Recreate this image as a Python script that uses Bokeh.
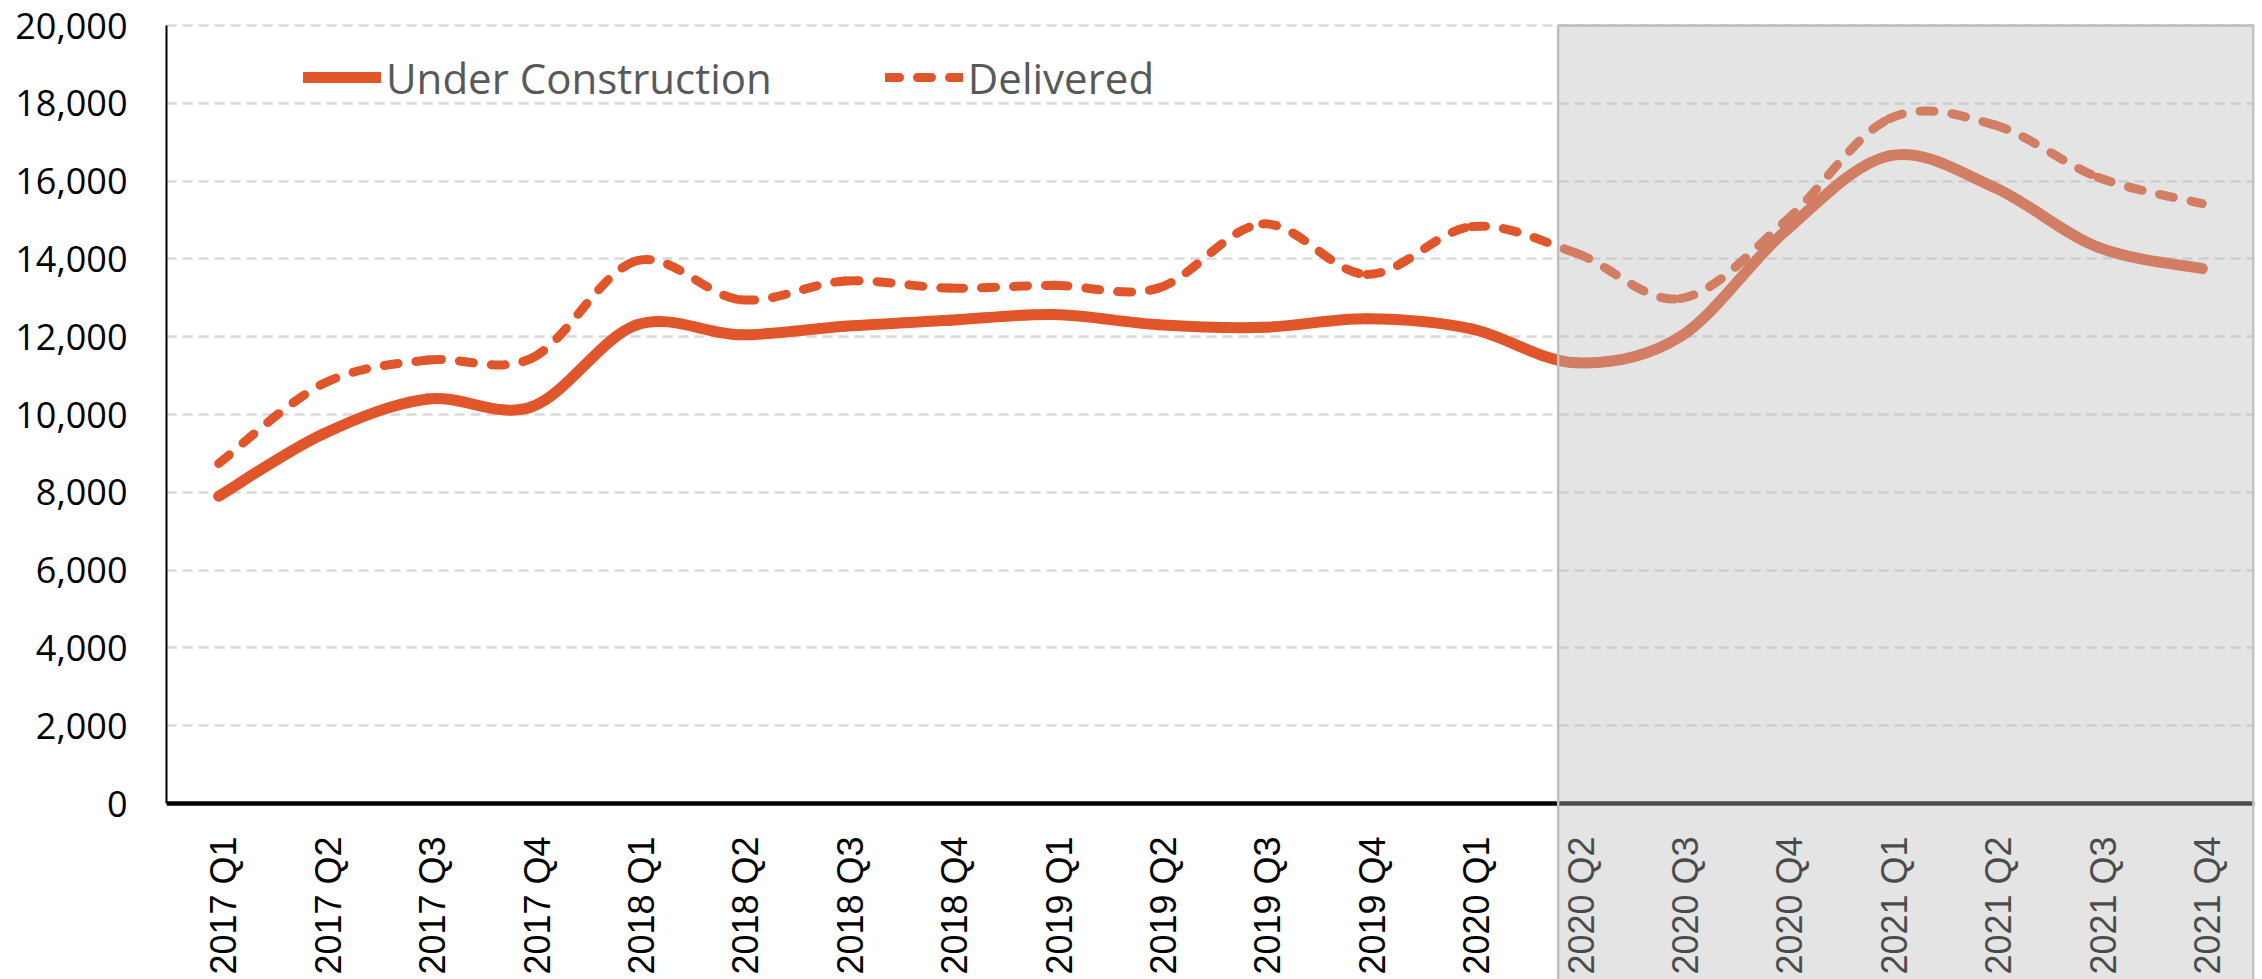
from bokeh.plotting import figure
from bokeh.models import Range1d, FixedTicker, NumeralTickFormatter, Legend, LegendItem, Span, ColumnDataSource
from bokeh.core.properties import value
from bokeh.embed import file_html
from bokeh.resources import INLINE
import math

# ---------------- data ----------------
quarters = ["2017 Q1", "2017 Q2", "2017 Q3", "2017 Q4",
            "2018 Q1", "2018 Q2", "2018 Q3", "2018 Q4",
            "2019 Q1", "2019 Q2", "2019 Q3", "2019 Q4",
            "2020 Q1", "2020 Q2", "2020 Q3", "2020 Q4",
            "2021 Q1", "2021 Q2", "2021 Q3", "2021 Q4"]
under_construction = [7900, 9500, 10400, 10200, 12300, 12050, 12270, 12420,
                      12570, 12310, 12240, 12460, 12200, 11330, 12000, 14700,
                      16650, 15850, 14300, 13750]
delivered = [8740, 10790, 11400, 11450, 13950, 12950, 13430, 13250,
             13320, 13250, 14900, 13600, 14830, 14150, 12980, 14950,
             17600, 17450, 16100, 15420]
y_ticks = [0, 2000, 4000, 6000, 8000, 10000, 12000, 14000, 16000, 18000, 20000]
forecast_start = 12.83   # shaded forecast region starts just before 2020 Q2

# ---------------- layout constants (pixels) ----------------
W, H = 2262, 979
left_border = 166
right_border = 8
y0_px = 803          # canvas y of value 0
y20k_px = 25         # canvas y of value 20000
px_per_unit = (y0_px - y20k_px) / 20000.0
y_end = 20000 + y20k_px / px_per_unit
y_start = -(H - y0_px) / px_per_unit
label_top_px = 836
label_y = -(label_top_px - y0_px) / px_per_unit
label_dx = 0.05

ORANGE = "#E1552A"

p = figure(width=W, height=H, output_backend="svg", toolbar_location=None,
           x_range=Range1d(-0.5, 19.5), y_range=Range1d(y_start, y_end),
           x_axis_location=None, min_border_left=left_border, min_border_right=right_border,
           min_border_top=0, min_border_bottom=0)
p.outline_line_color = None
p.background_fill_color = "white"
p.border_fill_color = "white"
p.xgrid.visible = False

# y axis
ax = p.yaxis[0]
ax.ticker = FixedTicker(ticks=y_ticks)
ax.formatter = NumeralTickFormatter(format="0,0")
ax.bounds = (0, 20000)
ax.axis_line_color = "black"
ax.axis_line_width = 2
ax.major_tick_line_color = None
ax.minor_tick_line_color = None
ax.major_tick_out = 0
ax.major_tick_in = 0
ax.major_label_standoff = 39
ax.major_label_text_font = "Open Sans"
ax.major_label_text_font_size = "36px"
ax.major_label_text_color = "black"

p.ygrid.ticker = FixedTicker(ticks=y_ticks)
p.ygrid.grid_line_color = "#D9D9D9"
p.ygrid.grid_line_width = 2.5
p.ygrid.grid_line_dash = "10 6"

# x axis baseline
base = Span(location=0, dimension="width", line_color="black", line_width=4.5, level="underlay")
p.add_layout(base)


def bezier_source(vals):
    n = len(vals)
    xs = list(range(n))

    def P(k):
        k = min(max(k, 0), n - 1)
        return xs[k], vals[k]

    d = dict(x0=[], y0=[], x1=[], y1=[], cx0=[], cy0=[], cx1=[], cy1=[])
    for i in range(n - 1):
        p0, p1, p2, p3 = P(i - 1), P(i), P(i + 1), P(i + 2)
        d["x0"].append(p1[0]); d["y0"].append(p1[1])
        d["x1"].append(p2[0]); d["y1"].append(p2[1])
        d["cx0"].append(p1[0] + (p2[0] - p0[0]) / 6.0)
        d["cy0"].append(p1[1] + (p2[1] - p0[1]) / 6.0)
        d["cx1"].append(p2[0] - (p3[0] - p1[0]) / 6.0)
        d["cy1"].append(p2[1] - (p3[1] - p1[1]) / 6.0)
    return ColumnDataSource(d)


r_del = p.bezier(x0="x0", y0="y0", x1="x1", y1="y1", cx0="cx0", cy0="cy0", cx1="cx1", cy1="cy1",
                 source=bezier_source(delivered), line_color=ORANGE, line_width=9,
                 line_dash="14 18", line_cap="round")
r_uc = p.bezier(x0="x0", y0="y0", x1="x1", y1="y1", cx0="cx0", cy0="cy0", cx1="cx1", cy1="cy1",
                source=bezier_source(under_construction), line_color=ORANGE, line_width=11,
                line_cap="round")

# category labels (rotated)
lab_src = ColumnDataSource(dict(x=[i + label_dx for i in range(len(quarters))],
                                y=[label_y] * len(quarters), t=quarters))
p.text(x="x", y="y", text="t", source=lab_src, angle=math.pi / 2, text_align="right",
       text_baseline="middle", text_font=value("Liberation Sans"), text_font_size="36px",
       text_color="black")

# forecast shading (drawn on top, semi-transparent)
p.quad(left=[forecast_start], right=[19.49], bottom=[y_start - 1000], top=[20000],
       fill_color="#BBBBBB", fill_alpha=0.4, line_color="#BFBFBF", line_width=2.5)

legend = Legend(items=[LegendItem(label="Under Construction", renderers=[r_uc]),
                       LegendItem(label="Delivered", renderers=[r_del])],
                orientation="horizontal", location=(137, 870),
                glyph_width=78, glyph_height=64, label_standoff=5, spacing=113,
                padding=0, margin=0, background_fill_alpha=0, border_line_color=None,
                label_text_font="Open Sans", label_text_font_size="42px",
                label_text_color="#595959")
p.add_layout(legend)

open("out.html", "w").write(file_html(p, INLINE))
